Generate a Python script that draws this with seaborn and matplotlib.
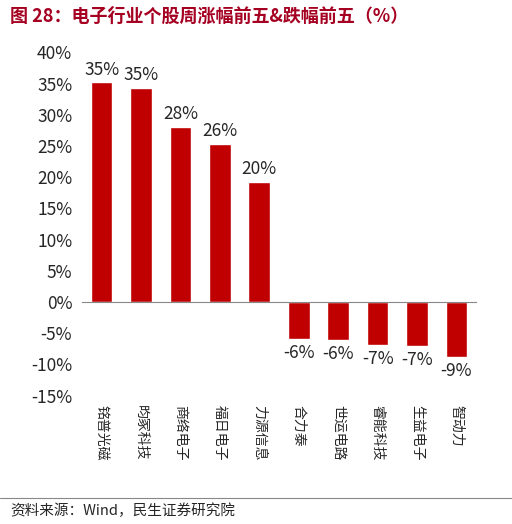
import matplotlib
matplotlib.use("Agg")
import matplotlib.pyplot as plt
import seaborn as sns
import pandas as pd

categories = ["铭普光磁", "昀冢科技", "商络电子", "福日电子", "力源信息", "合力泰", "世运电路", "睿能科技", "生益电子", "智动力"]
values = [35.2, 34.3, 28.1, 25.3, 19.3, -5.9, -6.1, -6.9, -7.0, -8.8]
labels = ["35%", "35%", "28%", "26%", "20%", "-6%", "-6%", "-7%", "-7%", "-9%"]
yticks = [-15, -10, -5, 0, 5, 10, 15, 20, 25, 30, 35, 40]

sns.set_style("white")
plt.rcParams['font.family'] = ['Noto Sans CJK SC', 'DejaVu Sans']

fig = plt.figure(figsize=(5.12, 5.24), dpi=100)
ax = fig.add_axes([0.16, 0.245, 0.77, 0.655])
df = pd.DataFrame({"c": categories, "v": values})
sns.barplot(data=df, x="c", y="v", color="#C00000", width=0.55, saturation=1, ax=ax)
ax.set_ylim(-15, 40)
ax.set_yticks(yticks)
ax.set_yticklabels([f"{t}%" for t in yticks], fontsize=12.5)
ax.set_xlabel(""); ax.set_ylabel("")
ax.set_xticks(range(len(categories)))
ax.set_xticklabels(categories, fontsize=12.5)
ax.tick_params(axis="x", length=0, pad=74, labelrotation=270)
fig.canvas.draw()
for lab in ax.get_xticklabels():
    lab.set_rotation(270)
    lab.set_va("top")
    lab.set_ha("center")
for s in ["top", "right", "left"]:
    ax.spines[s].set_visible(False)
ax.spines["bottom"].set_position(("data", 0))
ax.spines["bottom"].set_color("#888888")
for i, (v, l) in enumerate(zip(values, labels)):
    ax.text(i, v + (0.6 if v > 0 else -0.8), l, ha="center", va="bottom" if v > 0 else "top", fontsize=12.5)

fig.text(0.02, 0.968, "图 28：电子行业个股周涨幅前五&跌幅前五（%）", fontsize=13, fontweight="bold", color="#A50021", va="center")
fig.add_artist(plt.Line2D([0.0, 1.0], [0.05, 0.05], color="#888888", lw=0.8))
fig.text(0.02, 0.025, "资料来源：Wind，民生证券研究院", fontsize=10.5, va="center")
fig.savefig("out.png", dpi=100)
